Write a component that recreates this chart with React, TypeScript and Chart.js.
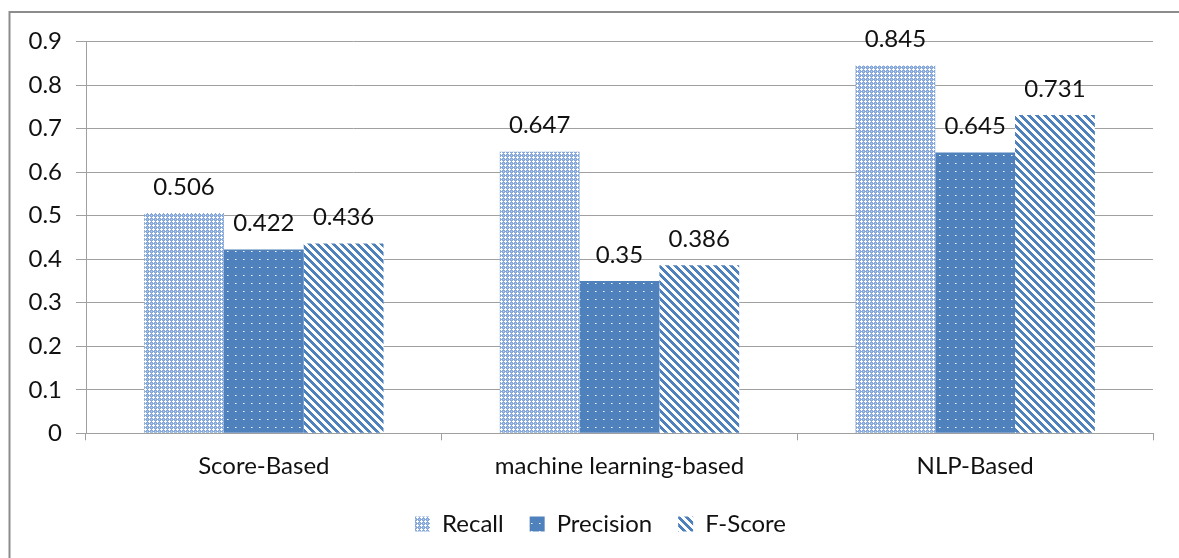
import React, { useEffect, useRef } from "react";
import { Chart, registerables } from "chart.js";

Chart.register(...registerables);

const categories = ["Score-Based", "machine learning-based", "NLP-Based"];
const seriesNames = ["Recall", "Precision", "F-Score"];
const recall = [0.506, 0.647, 0.845];
const precision = [0.422, 0.35, 0.645];
const fScore = [0.436, 0.386, 0.731];
const yTickValues = [0, 0.1, 0.2, 0.3, 0.4, 0.5, 0.6, 0.7, 0.8, 0.9];

const BLUE = "#4f81bd";
const TEXT = "#111111";
const GRID = "#a0a0a0";
const FONT = "Lato";

function makePattern(kind: string): CanvasPattern | string {
  const c = document.createElement("canvas");
  const size = kind === "recall" ? 4 : 8;
  c.width = size;
  c.height = size;
  const g = c.getContext("2d");
  if (!g) return BLUE;
  if (kind === "recall") {
    g.fillStyle = "#86a8da";
    g.fillRect(0, 0, 4, 4);
    g.fillStyle = "#ffffff";
    [[1, 0], [0, 1], [1, 1], [2, 1], [1, 2]].forEach(([x, y]) => g.fillRect(x, y, 1, 1));
    g.fillStyle = "#b3c9ea";
    [[3, 3]].forEach(([x, y]) => g.fillRect(x, y, 1, 1));
  } else if (kind === "precision") {
    g.fillStyle = BLUE;
    g.fillRect(0, 0, 8, 8);
    g.fillStyle = "#ffffff";
    g.fillRect(3, 3, 1, 1);
    g.fillStyle = "#a9c0e2";
    g.fillRect(4, 3, 1, 1);
  } else {
    g.fillStyle = "#ffffff";
    g.fillRect(0, 0, 8, 8);
    g.fillStyle = BLUE;
    for (let y = 0; y < 8; y++) {
      for (let x = 0; x < 8; x++) {
        if ((((x - y) % 8) + 8) % 8 < 4) g.fillRect(x, y, 1, 1);
      }
    }
  }
  const p = g.createPattern(c, "repeat");
  return p || BLUE;
}

const framePlugin = {
  id: "frame",
  beforeDraw(chart: any) {
    const ctx = chart.ctx;
    ctx.save();
    ctx.fillStyle = "#ffffff";
    ctx.fillRect(0, 0, chart.width, chart.height);
    ctx.strokeStyle = "#8c8c8c";
    ctx.lineWidth = 2;
    ctx.strokeRect(9.5, 12, 3000, 3000);
    ctx.restore();
  },
};

const legendShiftPlugin = {
  id: "legendShift",
  afterLayout(chart: any) {
    const lg = chart.legend;
    if (lg) {
      lg.left += 24;
      lg.right += 24;
    }
  },
};

const valueLabelPlugin = {
  id: "valueLabels",
  afterDatasetsDraw(chart: any) {
    const ctx = chart.ctx;
    ctx.save();
    ctx.font = `24px ${FONT}`;
    ctx.fillStyle = TEXT;
    ctx.textAlign = "center";
    ctx.textBaseline = "middle";
    chart.data.datasets.forEach((ds: any, di: number) => {
      const meta = chart.getDatasetMeta(di);
      meta.data.forEach((el: any, i: number) => {
        ctx.fillText(String(ds.data[i]), el.x, el.y - 26);
      });
    });
    ctx.restore();
  },
};

export default function App() {
  const ref = useRef<HTMLCanvasElement | null>(null);

  useEffect(() => {
    if (!ref.current) return;
    const chart = new Chart(ref.current, {
      type: "bar",
      data: {
        labels: categories,
        datasets: [
          { label: seriesNames[0], data: recall, backgroundColor: makePattern("recall") as any, borderWidth: 0 },
          { label: seriesNames[1], data: precision, backgroundColor: makePattern("precision") as any, borderWidth: 0 },
          { label: seriesNames[2], data: fScore, backgroundColor: makePattern("fscore") as any, borderWidth: 0 },
        ],
      },
      options: {
        responsive: false,
        animation: false,
        devicePixelRatio: 1,
        layout: { padding: { top: 41.5, right: 26, left: 0, bottom: 12 } },
        datasets: { bar: { categoryPercentage: 0.673, barPercentage: 1 } },
        plugins: {
          title: { display: false },
          tooltip: { enabled: false },
          legend: {
            position: "bottom",
            labels: {
              font: { family: FONT, size: 24 },
              color: TEXT,
              boxWidth: 15,
              boxHeight: 15,
              padding: 26,
            },
          },
        },
        scales: {
          x: {
            offset: true,
            grid: { display: true, drawOnChartArea: false, drawTicks: true, tickLength: 7, offset: true, color: GRID },
            border: { display: true, color: GRID },
            ticks: { font: { family: FONT, size: 24 }, color: TEXT, padding: 12, maxRotation: 0 },
            afterFit: (s: any) => {
              s.height = 52.7;
            },
          },
          y: {
            min: 0,
            max: 0.9,
            grid: { color: GRID, tickLength: 10, drawTicks: true },
            border: { display: true, color: GRID },
            afterBuildTicks: (s: any) => {
              s.ticks = yTickValues.map((v) => ({ value: v }));
            },
            ticks: {
              font: { family: FONT, size: 24 },
              color: TEXT,
              padding: 14,
              callback: (v: any) => String(Math.round(Number(v) * 10) / 10),
            },
            afterFit: (s: any) => {
              s.width = 86;
            },
          },
        },
      },
      plugins: [framePlugin, legendShiftPlugin, valueLabelPlugin],
    });
    return () => chart.destroy();
  }, []);

  return (
    <canvas
      ref={ref}
      width={1179}
      height={558}
      style={{ position: "absolute", left: 0, top: 0, display: "block" }}
    />
  );
}
